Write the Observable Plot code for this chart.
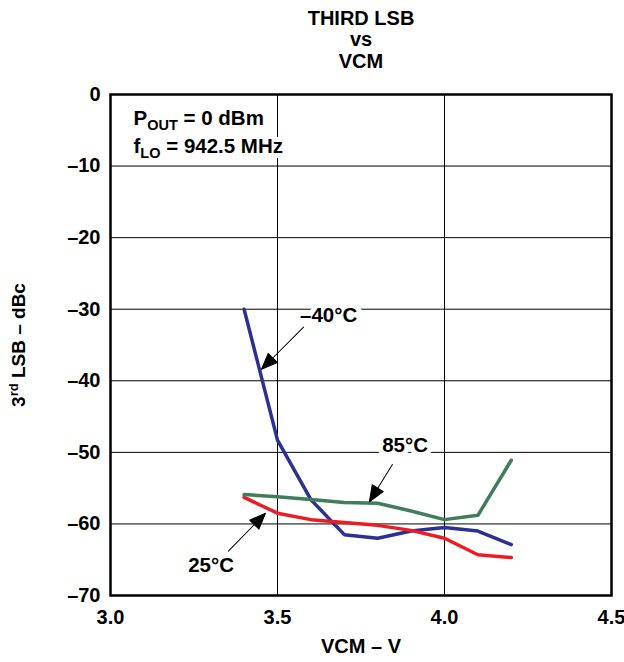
<!DOCTYPE html>
<html>
<head>
<meta charset="utf-8">
<script src="https://cdn.jsdelivr.net/npm/d3@7"></script>
<script src="https://cdn.jsdelivr.net/npm/@observablehq/plot@0.6"></script>
<style>
  html, body { margin: 0; padding: 0; background: #fff; }
</style>
</head>
<body>
<div id="chart"></div>
<script>
// ---- data ----
const vcm = [3.4, 3.5, 3.6, 3.7, 3.8, 3.9, 4.0, 4.1, 4.2];
const lsbMinus40 = [-30.0, -48.3, -56.6, -61.5, -62.0, -61.0, -60.5, -61.0, -62.9];
const lsb25 = [-56.3, -58.5, -59.4, -59.8, -60.2, -60.9, -62.0, -64.3, -64.7];
const lsb85 = [-55.9, -56.2, -56.6, -57.0, -57.1, -58.2, -59.4, -58.8, -51.1];
const seriesNames = ["–40°C", "25°C", "85°C"];
const seriesColors = ["#2b3190", "#ec1c24", "#3f7d5b"];
const xTicks = [3.0, 3.5, 4.0, 4.5];
const yTicks = [0, -10, -20, -30, -40, -50, -60, -70];
const xGrid = [3.5, 4.0];
const yGrid = [-10, -20, -30, -40, -50, -60];
const titleText = "THIRD LSB\nvs\nVCM";
const xLabel = "VCM – V";
const yLabelParts = ["3", "rd", " LSB – dBc"];
// curve labels (centre positions, data units)
const labelX = [3.653, 3.301, 3.882];
const labelY = [-30.9, -65.8, -49.0];
// arrows: tail -> tip (data units)
const arrowTailX = [3.578, 3.353, 3.844];
const arrowTailY = [-32.5, -63.8, -51.7];
const arrowTipX = [3.452, 3.464, 3.775];
const arrowTipY = [-38.4, -58.5, -56.9];
// condition notes
const noteBase = ["P", "f"];
const noteSub = ["OUT", "LO"];
const noteRest = [" = 0 dBm", " = 942.5 MHz"];
const noteX = [3.069, 3.069];
const noteY = [-3.3, -7.2];

// ---- tables ----
const seriesValues = [lsbMinus40, lsb25, lsb85];
const rows = [];
seriesNames.forEach((s, k) => vcm.forEach((v, i) => rows.push({series: s, x: v, y: seriesValues[k][i]})));
const labels = seriesNames.map((s, i) => ({text: s, x: labelX[i], y: labelY[i]}));
const notes = noteBase.map((b, i) => ({base: b, sub: noteSub[i], rest: noteRest[i], x: noteX[i], y: noteY[i]}));

const W = 624, H = 662, mL = 110, mR = 13, mT = 94, mB = 67;
const sx = d3.scaleLinear([3, 4.5], [mL, W - mR]);
const sy = d3.scaleLinear([-70, 0], [H - mB, mT]);
const arrows = arrowTipX.map((x, i) => {
  const dx = sx(x) - sx(arrowTailX[i]);
  const dy = sy(arrowTipY[i]) - sy(arrowTailY[i]);
  return {x, y: arrowTipY[i], len: Math.hypot(dx, dy), rot: Math.atan2(dx, -dy) * 180 / Math.PI};
});
const arrowShape = {
  draw(context, l) {
    context.moveTo(0, 0);
    context.lineTo(0, -l + 10);
    context.moveTo(0, -l);
    context.lineTo(-6.5, -l + 16);
    context.lineTo(6.5, -l + 16);
    context.closePath();
  }
};

const font = "'Liberation Sans', Arial, Helvetica, sans-serif";
const noteOpts = {x: "x", y: "y", text: d => d.base + d.sub + d.rest, textAnchor: "start", fontSize: 20.5, fontWeight: "bold"};

const plot = Plot.plot({
  width: W, height: H,
  marginLeft: mL, marginRight: mR, marginTop: mT, marginBottom: mB,
  style: {fontFamily: font, fontWeight: "bold", color: "#000", background: "#fff", overflow: "visible"},
  x: {domain: [3, 4.5], label: null},
  y: {domain: [-70, 0], label: null},
  color: {domain: seriesNames, range: seriesColors},
  length: {type: "identity"},
  marks: [
    Plot.gridX(xGrid, {stroke: "#000", strokeOpacity: 1, strokeWidth: 1}),
    Plot.gridY(yGrid, {stroke: "#000", strokeOpacity: 1, strokeWidth: 1}),
    Plot.axisX({ticks: xTicks, tickSize: 0, tickPadding: 14, tickFormat: d3.format(".1f"), fontSize: 20, fontWeight: "bold", label: null}),
    Plot.axisY({ticks: yTicks, tickSize: 0, tickPadding: 10, tickFormat: d => d === 0 ? "0" : "–" + Math.abs(d), fontSize: 20, fontWeight: "bold", label: null}),
    Plot.text([titleText], {frameAnchor: "top", dy: -55, lineAnchor: "middle", lineHeight: 1.08, fontSize: 20, fontWeight: "bold"}),
    Plot.text([xLabel], {frameAnchor: "bottom", dy: 57, fontSize: 20, fontWeight: "bold"}),
    Plot.text([yLabelParts.join("")], {frameAnchor: "left", textAnchor: "middle", dx: -92, dy: 0, rotate: -90, fontSize: 19, fontWeight: "bold", className: "ylab"}),
    Plot.text(notes, {...noteOpts, stroke: "#fff", strokeWidth: 10, fill: "#fff", className: "pnote"}),
    Plot.text(notes, {...noteOpts, fill: "#000", className: "pnote"}),
    Plot.text(labels, {x: "x", y: "y", text: "text", fontSize: 20.5, fontWeight: "bold", stroke: "#fff", strokeWidth: 10, fill: "#000"}),
    Plot.line(rows, {x: "x", y: "y", z: "series", stroke: "series", strokeWidth: 3.5, strokeLinejoin: "round"}),
    Plot.vector(arrows, {x: "x", y: "y", length: "len", rotate: "rot", anchor: "end", shape: arrowShape, stroke: "#000", fill: "#000", strokeWidth: 1}),
    Plot.frame({stroke: "#000", strokeWidth: 2.5})
  ]
});

// subscripts / superscripts
const svgNS = "http://www.w3.org/2000/svg";
d3.select(plot).selectAll("g.pnote").each(function() {
  d3.select(this).selectAll("text").each(function(_, i) {
    const n = notes[i];
    this.textContent = "";
    this.appendChild(document.createTextNode(n.base));
    const s = document.createElementNS(svgNS, "tspan");
    s.setAttribute("dy", "5"); s.setAttribute("font-size", "14.5"); s.textContent = n.sub;
    this.appendChild(s);
    const r = document.createElementNS(svgNS, "tspan");
    r.setAttribute("dy", "-5"); r.textContent = n.rest;
    this.appendChild(r);
  });
});
d3.select(plot).selectAll("g.ylab text").each(function() {
  this.textContent = "";
  this.appendChild(document.createTextNode(yLabelParts[0]));
  const s = document.createElementNS(svgNS, "tspan");
  s.setAttribute("dy", "-7"); s.setAttribute("font-size", "13"); s.textContent = yLabelParts[1];
  this.appendChild(s);
  const r = document.createElementNS(svgNS, "tspan");
  r.setAttribute("dy", "7"); r.textContent = yLabelParts[2];
  this.appendChild(r);
});

document.getElementById("chart").appendChild(plot);
</script>
</body>
</html>
